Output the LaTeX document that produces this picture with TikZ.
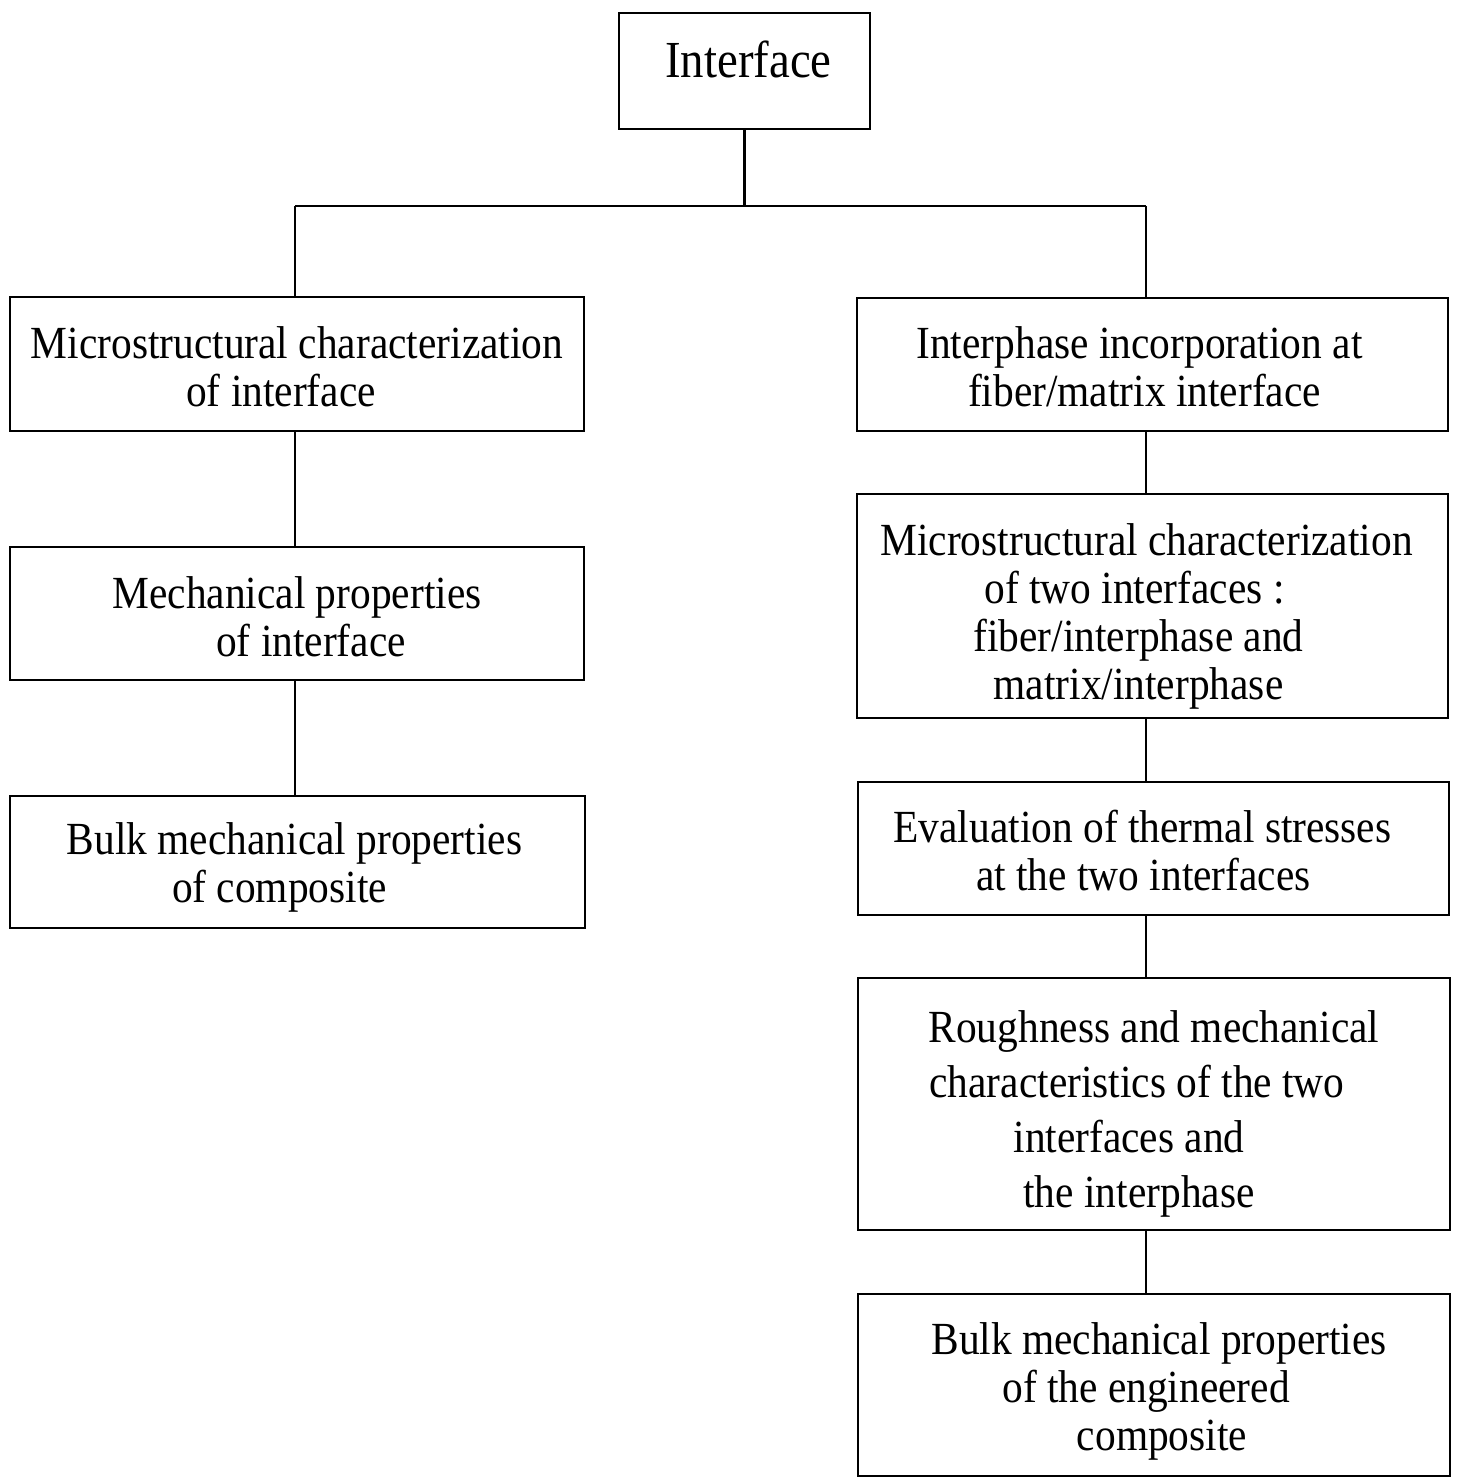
\documentclass[tikz,border=0pt]{standalone}
\usepackage{fontspec}
\setmainfont[FakeStretch=0.9]{Liberation Serif}
\newcommand\tline[2]{\makebox[0pt]{\hspace*{#1pt}#2}}
\newcommand\dn[1]{\rule{0pt}{\dimexpr 31.5pt+#1pt+#1pt\relax}}
\begin{document}
\begin{tikzpicture}[x=1pt,y=-1pt,
  box/.style={draw, line width=2.8pt, align=center, inner sep=0pt,
    font=\fontsize{46}{48}\selectfont},
  link/.style={line width=2.8pt}]
\useasboundingbox (0,0) rectangle (1461,1479);
% boxes: centre, width, height
\node[box, minimum width=251pt, minimum height=116pt, font=\fontsize{52}{52}\selectfont] (top) at (744.5,71) {\raisebox{24pt}{\tline{8}{Interface}}};
\node[box, minimum width=574pt, minimum height=134pt] (l1) at (297,364) {\dn{3}\tline{0}{Microstructural characterization}\\\tline{-32}{of interface}};
\node[box, minimum width=574pt, minimum height=133pt] (l2) at (297,613.5) {\dn{3}\tline{0}{Mechanical properties}\\\tline{28}{of interface}};
\node[box, minimum width=575pt, minimum height=132pt] (l3) at (297.5,862) {\dn{6}\tline{-6}{Bulk mechanical properties}\\\tline{-36}{of composite}};
\node[box, minimum width=591pt, minimum height=133pt] (r1) at (1152.5,364.5) {\dn{2}\tline{-26}{Interphase incorporation at}\\\tline{-16}{fiber/matrix interface}};
\node[box, minimum width=591pt, minimum height=224pt] (r2) at (1152.5,606) {\dn{11}\tline{-12}{Microstructural characterization}\\\tline{-36}{of two interfaces :}\\\tline{-28}{fiber/interphase and}\\\tline{-28}{matrix/interphase}};
\node[box, minimum width=591pt, minimum height=133pt] (r3) at (1153.5,848.5) {\dn{2}\tline{-22}{Evaluation of thermal stresses}\\\tline{-20}{at the two interfaces}};
\node[box, minimum width=592pt, minimum height=252pt, font=\fontsize{46}{55}\selectfont] (r4) at (1154,1104) {\dn{10}\tline{0}{Roughness and mechanical}\\\tline{-34}{characteristics of the two}\\\tline{-50}{interfaces and}\\\tline{-30}{the interphase}};
\node[box, minimum width=592pt, minimum height=182pt] (r5) at (1154,1385) {\dn{7}\tline{10}{Bulk mechanical properties}\\\tline{-16}{of the engineered}\\\tline{16}{composite}};
% connectors
\coordinate (jl) at (295,206);
\coordinate (jr) at (1146,206);
\draw[link] (top.south) -- (top.south |- jl);
\draw[link] (jl) -- (jr);
\draw[link] (jl) -- (jl |- l1.north);
\draw[link] (jr) -- (jr |- r1.north);
\draw[link] (jl |- l1.south) -- (jl |- l2.north);
\draw[link] (jl |- l2.south) -- (jl |- l3.north);
\draw[link] (jr |- r1.south) -- (jr |- r2.north);
\draw[link] (jr |- r2.south) -- (jr |- r3.north);
\draw[link] (jr |- r3.south) -- (jr |- r4.north);
\draw[link] (jr |- r4.south) -- (jr |- r5.north);
\end{tikzpicture}
\end{document}
